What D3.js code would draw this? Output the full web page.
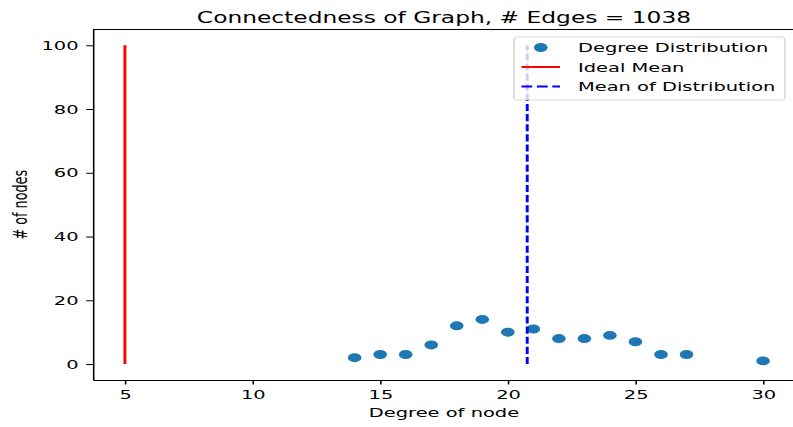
<!DOCTYPE html>
<html>
<head>
<meta charset="utf-8">
<script src="https://cdn.jsdelivr.net/npm/d3@7"></script>
<style>
	body { margin: 0; background: white; }
	svg { display: block; }
</style>
</head>
<body>
<div id="chart"></div>
<script>
// data
var degrees = [14, 15, 16, 17, 18, 19, 20, 21, 22, 23, 24, 25, 26, 27, 30]
var counts = [2, 3, 3, 6, 12, 14, 10, 11, 8, 8, 9, 7, 3, 3, 1]
var numEdges = 1038
var idealMean = 5
var meanDegree = 20.76
var lineSpan = [0, 100]
var xTicks = [5, 10, 15, 20, 25, 30]
var yTicks = [0, 20, 40, 60, 80, 100]
var legendLabels = ['Degree Distribution', 'Ideal Mean', 'Mean of Distribution']

var W = 793, H = 427
// the picture is a stretched figure: draw in figure units, then stretch
var SX = 1.40, SY = 0.92
var ix = function(v) { return v / SX }
var iy = function(v) { return v / SY }
var font = 'DejaVu Sans'
var fs = 13.89
var textColor = '#000'

var svg = d3.select('#chart')
	.append('svg')
	.attr('width', W)
	.attr('height', H)
var g = svg.append('g')
	.attr('transform', 'scale(' + SX + ',' + SY + ')')

var x = d3.scaleLinear()
	.domain([3.75, 31.25])
	.range([ix(93), ix(795)])
var y = d3.scaleLinear()
	.domain([-5, 105])
	.range([iy(380), iy(29.4)])

var points = degrees.map(function(d, i) { return { d: d, c: counts[i] } })

// scatter
g.append('g')
	.selectAll('circle')
	.data(points)
	.enter()
	.append('circle')
	.attr('cx', function(p) { return x(p.d) })
	.attr('cy', function(p) { return y(p.c) })
	.attr('r', 4.86)
	.attr('fill', '#1f77b4')

// ideal mean
g.append('line')
	.attr('x1', x(idealMean))
	.attr('x2', x(idealMean))
	.attr('y1', y(lineSpan[0]))
	.attr('y2', y(lineSpan[1]))
	.attr('stroke', '#ff0000')
	.attr('stroke-width', 2.08)

// mean of distribution
g.append('line')
	.attr('x1', x(meanDegree))
	.attr('x2', x(meanDegree))
	.attr('y1', y(lineSpan[0]))
	.attr('y2', y(lineSpan[1]))
	.attr('stroke', '#0000ff')
	.attr('stroke-width', 2.08)
	.attr('stroke-dasharray', '7.7,3.3')

// axes
var xAxis = g.append('g')
	.attr('transform', 'translate(0,' + y.range()[0] + ')')
	.call(d3.axisBottom(x).tickValues(xTicks).tickSize(4.86).tickSizeOuter(0).tickPadding(5.5))
var yAxis = g.append('g')
	.attr('transform', 'translate(' + x.range()[0] + ',0)')
	.call(d3.axisLeft(y).tickValues(yTicks).tickSize(4.86).tickSizeOuter(0).tickPadding(5.5))
g.selectAll('.domain, .tick line')
	.attr('stroke', '#000')
	.attr('stroke-width', 1.11)
g.selectAll('.tick text')
	.attr('fill', textColor)
	.style('font-family', font)
	.style('font-size', fs + 'px')

// top and right spines
g.append('line')
	.attr('x1', x.range()[0]).attr('x2', x.range()[1])
	.attr('y1', y.range()[1]).attr('y2', y.range()[1])
	.attr('stroke', '#000').attr('stroke-width', 1.11)
g.append('line')
	.attr('x1', x.range()[1]).attr('x2', x.range()[1])
	.attr('y1', y.range()[0]).attr('y2', y.range()[1])
	.attr('stroke', '#000').attr('stroke-width', 1.11)

var midX = (x.range()[0] + x.range()[1]) / 2

g.append('text')
	.text('Connectedness of Graph, # Edges = ' + numEdges)
	.attr('x', midX)
	.attr('y', iy(22.7))
	.attr('fill', textColor)
	.style('font-family', font)
	.style('font-size', '16.67px')
	.style('text-anchor', 'middle')

g.append('text')
	.text('Degree of node')
	.attr('x', midX)
	.attr('y', iy(417.5))
	.attr('fill', textColor)
	.style('font-family', font)
	.style('font-size', fs + 'px')
	.style('text-anchor', 'middle')

g.append('text')
	.text('# of nodes')
	.attr('transform', 'translate(' + ix(27) + ',' + (y.range()[0] + y.range()[1]) / 2 + ') rotate(-90)')
	.attr('fill', textColor)
	.style('font-family', font)
	.style('font-size', fs + 'px')
	.style('text-anchor', 'middle')

// legend
var legend = g.append('g')
legend.append('rect')
	.attr('x', ix(514))
	.attr('y', iy(37))
	.attr('width', ix(785) - ix(514))
	.attr('height', iy(100) - iy(37))
	.attr('rx', 2.8)
	.attr('fill', 'white')
	.attr('fill-opacity', 0.8)
	.attr('stroke', '#cccccc')
	.attr('stroke-opacity', 0.8)
	.attr('stroke-width', 1.1)

var rowY = function(i) { return iy(47.5) + i * 21.2 }
var hx0 = ix(521.5), hx1 = ix(560)

legend.append('circle')
	.attr('cx', (hx0 + hx1) / 2)
	.attr('cy', rowY(0))
	.attr('r', 4.86)
	.attr('fill', '#1f77b4')
legend.append('line')
	.attr('x1', hx0).attr('x2', hx1)
	.attr('y1', rowY(1)).attr('y2', rowY(1))
	.attr('stroke', '#ff0000')
	.attr('stroke-width', 2.08)
legend.append('line')
	.attr('x1', hx0).attr('x2', hx1)
	.attr('y1', rowY(2)).attr('y2', rowY(2))
	.attr('stroke', '#0000ff')
	.attr('stroke-width', 2.08)
	.attr('stroke-dasharray', '7.7,3.3')

legend.selectAll('text')
	.data(legendLabels)
	.enter()
	.append('text')
	.text(function(d) { return d })
	.attr('x', ix(578))
	.attr('y', function(d, i) { return rowY(i) })
	.attr('dy', '0.36em')
	.attr('fill', textColor)
	.style('font-family', font)
	.style('font-size', fs + 'px')
</script>
</body>
</html>
